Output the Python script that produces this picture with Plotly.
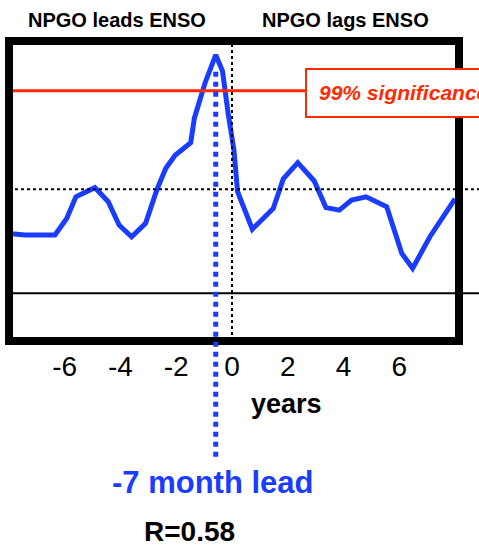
import plotly.graph_objects as go

# ---- data ----
lag_years = [-8.0, -7.43, -6.35, -5.93, -5.60, -4.92, -4.44, -4.05, -3.60, -3.10,
             -2.70, -2.38, -2.04, -1.48, -1.35, -0.97, -0.583, -0.34, -0.14, 0.07,
             0.20, 0.73, 1.48, 1.84, 2.36, 2.95, 3.37, 3.85, 4.29, 4.81,
             5.55, 6.09, 6.48, 7.10, 8.0]
corr = [0.144, 0.140, 0.140, 0.180, 0.232, 0.254, 0.220, 0.164, 0.136, 0.168,
        0.248, 0.300, 0.332, 0.362, 0.421, 0.505, 0.573, 0.534, 0.433, 0.344,
        0.244, 0.154, 0.204, 0.275, 0.314, 0.270, 0.206, 0.200, 0.224, 0.232,
        0.208, 0.096, 0.060, 0.136, 0.227]
tick_vals = [-6, -4, -2, 0, 2, 4, 6]
tick_text = ["-6", "-4", "-2", "0", "2", "4", "6"]
sig_level = 0.487      # 99% significance
ref_level = 0.25       # dotted reference
lead_years = -7 / 12   # -7 month lead
r_value = 0.58

# ---- style ----
BLUE = "#1a3cff"
RED = "#ff2a00"
FONT = "Liberation Sans, Arial, sans-serif"
X_RANGE = [-8.0, 8.1435]
Y_RANGE = [-0.1147, 0.6065]

fig = go.Figure()
fig.add_trace(go.Scatter(x=lag_years, y=corr, mode="lines",
                         line=dict(color=BLUE, width=5), hoverinfo="skip"))

def y_to_paper(v):
    return (v - Y_RANGE[0]) / (Y_RANGE[1] - Y_RANGE[0])

shapes = [
    # zero line (solid) and reference (dotted)
    dict(type="line", xref="paper", yref="y", x0=0, x1=1.05, y0=0, y1=0,
         line=dict(color="black", width=2)),
    dict(type="line", xref="paper", yref="y", x0=0, x1=1.05, y0=ref_level, y1=ref_level,
         line=dict(color="black", width=2, dash="dot")),
    # zero lag dotted vertical
    dict(type="line", xref="x", yref="paper", x0=0, x1=0, y0=0, y1=1,
         line=dict(color="black", width=2, dash="dot")),
    # significance red line
    dict(type="line", xref="paper", yref="y", x0=0, x1=0.66, y0=sig_level, y1=sig_level,
         line=dict(color=RED, width=3)),
    # frame
    dict(type="rect", xref="paper", yref="paper", x0=0, x1=1, y0=0, y1=1,
         line=dict(color="black", width=8)),
    # significance box
    dict(type="rect", xref="paper", yref="paper", x0=0.66, x1=1.2, y0=0.7467, y1=0.9067,
         line=dict(color=RED, width=2), fillcolor="white"),
    # lead marker
    dict(type="line", xref="x", yref="paper", x0=lead_years, x1=lead_years,
         y0=-0.386, y1=y_to_paper(0.537),
         line=dict(color=BLUE, width=5, dash="dot")),
]

annotations = [
    dict(text="<b>NPGO leads ENSO</b>", xref="paper", yref="paper", x=0.239, y=1.069,
         showarrow=False, font=dict(size=20, color="black", family=FONT),
         xanchor="center", yanchor="middle"),
    dict(text="<b>NPGO lags ENSO</b>", xref="paper", yref="paper", x=0.748, y=1.069,
         showarrow=False, font=dict(size=20, color="black", family=FONT),
         xanchor="center", yanchor="middle"),
    dict(text="<b><i>99% significance</i></b>", xref="paper", yref="paper", x=0.684, y=0.827,
         showarrow=False, font=dict(size=21, color=RED, family=FONT),
         xanchor="left", yanchor="middle"),
    dict(text="<b>years</b>", xref="paper", yref="paper", x=0.617, y=-0.21,
         showarrow=False, font=dict(size=27, color="black", family=FONT),
         xanchor="center", yanchor="middle"),
    dict(text="<b>%d month lead</b>" % round(lead_years * 12), xref="paper", yref="paper",
         x=0.453, y=-0.472, showarrow=False,
         font=dict(size=31, color=BLUE, family=FONT), xanchor="center", yanchor="middle"),
    dict(text="<b>R=%.2f</b>" % r_value, xref="paper", yref="paper", x=0.400, y=-0.634,
         showarrow=False, font=dict(size=28, color="black", family=FONT),
         xanchor="center", yanchor="middle"),
]

fig.update_layout(
    width=479, height=548,
    margin=dict(l=9, r=20, t=41, b=207, pad=0),
    paper_bgcolor="white", plot_bgcolor="white",
    showlegend=False,
    shapes=shapes, annotations=annotations,
    xaxis=dict(range=X_RANGE, tickvals=tick_vals, ticktext=tick_text,
               showgrid=False, zeroline=False, showline=False, ticks="",
               ticklabelstandoff=6,
               tickfont=dict(size=28, color="black", family=FONT)),
    yaxis=dict(range=Y_RANGE, showgrid=False, zeroline=False, showline=False,
               showticklabels=False, ticks=""),
)

fig.write_html("out.html",
               config={"displayModeBar": False, "staticPlot": True},
               post_script="document.body.style.margin='0px';"
                           "document.body.style.overflow='hidden';")
